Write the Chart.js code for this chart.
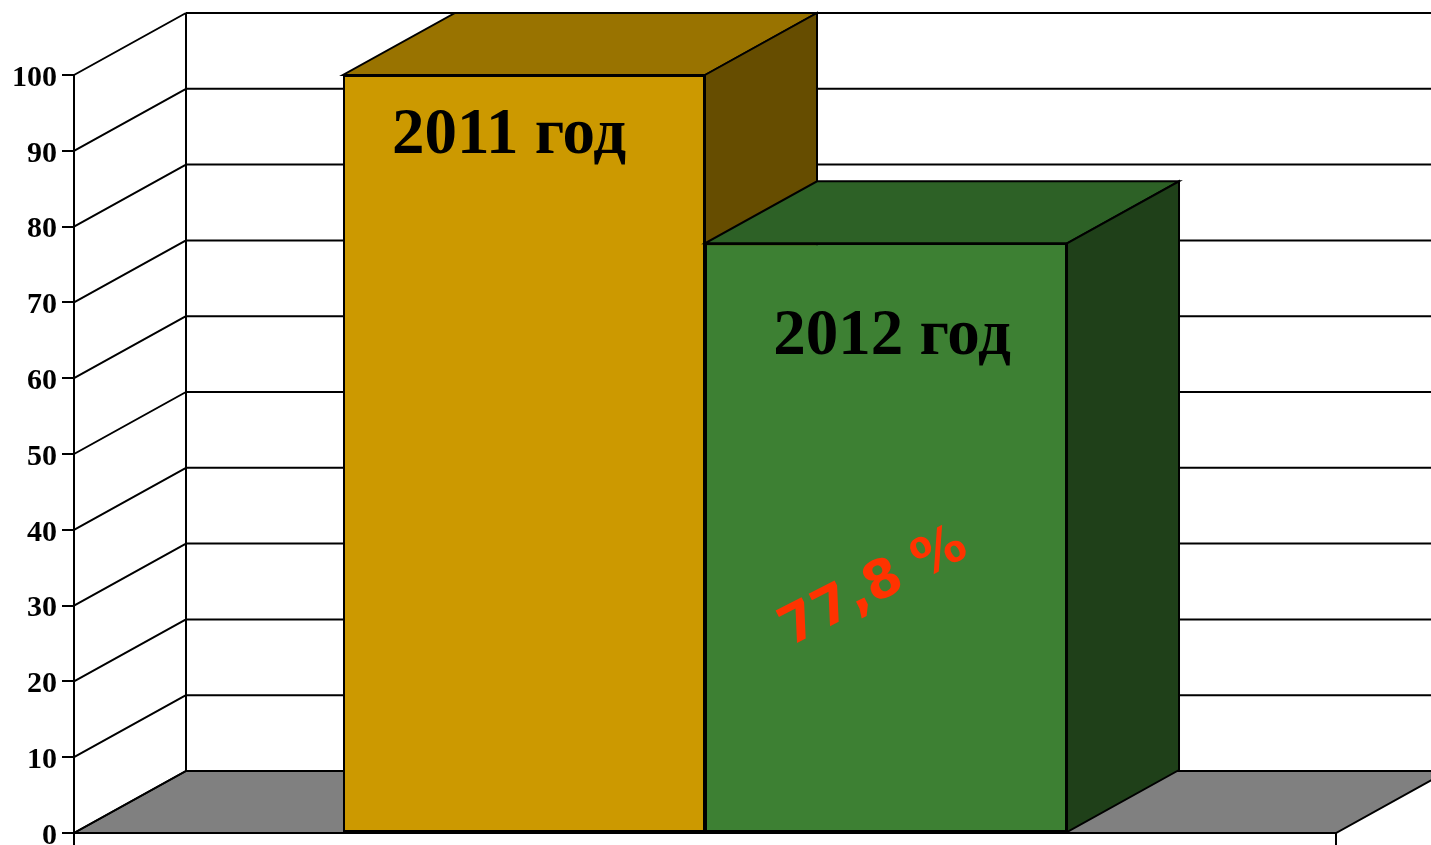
<!DOCTYPE html>
<html lang="ru">
<head>
<meta charset="utf-8">
<title>2011 год / 2012 год</title>
<script src="https://cdn.jsdelivr.net/npm/chart.js@4"></script>
<style>
  html, body { margin: 0; padding: 0; background: #fff; }
  #wrap { width: 1431px; height: 845px; }
</style>
</head>
<body>
<div id="wrap"><canvas id="chart" width="1431" height="845"></canvas></div>
<script>
// Data
const categories = [''];
const seriesLabels = ['2011 год', '2012 год'];
const seriesValues = [100, 77.8];
const tickValues = [0, 10, 20, 30, 40, 50, 60, 70, 80, 90, 100];
const percentSeries = 1;

// Box colours per series: front, top, side
const faceColors = [
  ['#CC9900', '#997300', '#664D00'],
  ['#3D8033', '#2D6126', '#1F4019']
];

// Perspective depth of the 3D boxes and walls
const DX = 112, DY = -62;
const SERIF = '"Liberation Serif", "Times New Roman", serif';

// Where each series name sits on its bar (offset from bar centre / bar top)
const nameOffsets = [[-15, 78], [6, 111]];

function poly(ctx, pts, fill) {
  ctx.beginPath();
  ctx.moveTo(pts[0][0], pts[0][1]);
  for (let i = 1; i < pts.length; i++) ctx.lineTo(pts[i][0], pts[i][1]);
  ctx.closePath();
  if (fill) { ctx.fillStyle = fill; ctx.fill(); }
  ctx.stroke();
}

const box3d = {
  id: 'box3d',
  beforeDatasetsDraw(chart) {
    const { ctx, chartArea: a, scales: { y } } = chart;
    const y0 = y.getPixelForValue(0);
    const yTop = y.getPixelForValue(tickValues[tickValues.length - 1]);
    ctx.save();
    ctx.strokeStyle = '#000';
    ctx.lineWidth = 2;
    // floor
    poly(ctx, [[a.left, y0], [a.right, y0], [a.right + DX, y0 + DY], [a.left + DX, y0 + DY]], '#808080');
    // side wall diagonals and back wall grid
    ctx.beginPath();
    tickValues.forEach(v => {
      const py = y.getPixelForValue(v);
      ctx.moveTo(a.left, py);
      ctx.lineTo(a.left + DX, py + DY);
      if (v > 0) {
        ctx.moveTo(a.left + DX, py + DY);
        ctx.lineTo(a.right + DX, py + DY);
      }
    });
    ctx.moveTo(a.left + DX, yTop + DY);
    ctx.lineTo(a.left + DX, y0 + DY);
    ctx.stroke();
    ctx.restore();
  },
  afterDatasetsDraw(chart) {
    const { ctx } = chart;
    ctx.save();
    // boxes from left to right so each one overlaps the previous box's side
    chart.data.datasets.forEach((ds, i) => {
      const cols = faceColors[i];
      chart.getDatasetMeta(i).data.forEach(bar => {
        bar.draw(ctx);
        const { x, y, base, width } = bar.getProps(['x', 'y', 'base', 'width'], true);
        const l = x - width / 2, r = x + width / 2;
        ctx.strokeStyle = '#000';
        ctx.lineWidth = 2;
        poly(ctx, [[l, y], [r, y], [r + DX, y + DY], [l + DX, y + DY]], cols[1]);
        poly(ctx, [[r, y], [r + DX, y + DY], [r + DX, base + DY], [r, base]], cols[2]);
      });
    });
    // series names on the boxes
    chart.data.datasets.forEach((ds, i) => {
      const bar = chart.getDatasetMeta(i).data[0];
      const { x, y } = bar.getProps(['x', 'y'], true);
      ctx.fillStyle = '#000';
      ctx.font = 'bold 65px ' + SERIF;
      ctx.textAlign = 'center';
      ctx.textBaseline = 'alphabetic';
      ctx.fillText(ds.label, x + nameOffsets[i][0], y + nameOffsets[i][1]);
    });
    // percentage on the 2012 box
    const pBar = chart.getDatasetMeta(percentSeries).data[0];
    const { x: px, y: py } = pBar.getProps(['x', 'y'], true);
    const text = String(seriesValues[percentSeries]).replace('.', ',') + ' %';
    ctx.translate(px - 12, py + 345);
    ctx.rotate(-27 * Math.PI / 180);
    ctx.font = 'bold 53px "DejaVu Sans", sans-serif';
    ctx.fillStyle = '#FF3300';
    ctx.textAlign = 'center';
    ctx.textBaseline = 'middle';
    ctx.fillText(text, 0, 0);
    ctx.restore();
  }
};

new Chart(document.getElementById('chart'), {
  type: 'bar',
  data: {
    labels: categories,
    datasets: seriesLabels.map((label, i) => ({
      label,
      data: [seriesValues[i]],
      backgroundColor: faceColors[i][0],
      borderColor: '#000',
      borderWidth: 2,
      borderSkipped: false,
      clip: false
    }))
  },
  options: {
    responsive: false,
    animation: false,
    devicePixelRatio: 1,
    categoryPercentage: 0.5737,
    barPercentage: 1,
    layout: { padding: { top: 75, right: 95, bottom: 0, left: 0 } },
    plugins: { legend: { display: false }, tooltip: { enabled: false }, title: { display: false } },
    scales: {
      x: {
        offset: true,
        grid: { display: true, offset: true, drawOnChartArea: false, drawTicks: true, tickLength: 12, color: '#000', lineWidth: 2 },
        border: { display: true, color: '#000', width: 2 },
        ticks: { display: false },
        afterFit(scale) { scale.height = 12; }
      },
      y: {
        min: 0,
        max: 100,
        afterBuildTicks(scale) { scale.ticks = tickValues.map(v => ({ value: v })); },
        grid: { display: true, drawOnChartArea: false, drawTicks: true, tickLength: 12, color: '#000', lineWidth: 2 },
        border: { display: true, color: '#000', width: 2 },
        ticks: {
          color: '#000',
          padding: 5,
          labelOffset: 3,
          font: { family: SERIF, size: 30, weight: 'bold' }
        },
        afterFit(scale) {
          scale.width = 74;
          scale.paddingTop = 0;
          scale.paddingBottom = 0;
        }
      }
    }
  },
  plugins: [box3d]
});
</script>
</body>
</html>
